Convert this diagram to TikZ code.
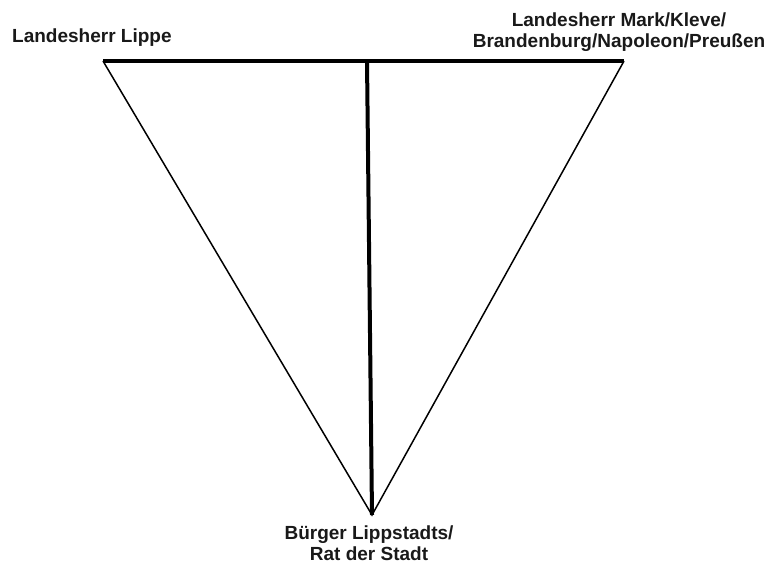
\documentclass[tikz,border=0pt]{standalone}
\usepackage{fontspec}
\setmainfont{Liberation Sans}
\begin{document}
\begin{tikzpicture}[x=1pt,y=-1pt,
  lbl/.style={font={\bfseries\fontsize{19}{20.5}\selectfont}, inner sep=0pt, align=center, text=black!90},
  bar/.style={line width=4.5pt},
  side/.style={line width=1.5pt}]
\useasboundingbox (0,0) rectangle (767,564);
\coordinate (L) at (103,61);
\coordinate (R) at (624,61);
\coordinate (T) at (367,61);
\coordinate (B) at (372,515);
\draw[side, line join=miter] (L) -- (B) -- (R);
\draw[bar] (L) -- (R);
\draw[line width=4pt] (T) -- (B);
\node[lbl, anchor=base west] (lippe) at (12,43) {Landesherr Lippe};
\node[lbl, anchor=north] (mark) at (619,13) {Landesherr Mark/Kleve/\\Brandenburg/Napoleon/Preußen};
\node[lbl, anchor=north] (buerger) at (369,526) {Bürger Lippstadts/\\Rat der Stadt};
\end{tikzpicture}
\end{document}
